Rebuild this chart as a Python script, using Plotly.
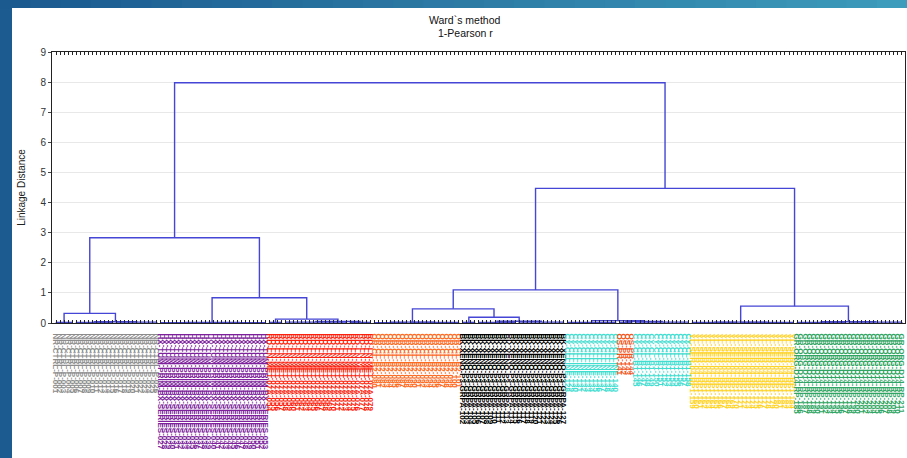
import plotly.graph_objects as go

# ---------------- data ----------------
cluster_names = ["gray", "purple", "red", "orange", "black", "cyan A", "orange-red", "cyan B", "yellow", "green"]
cluster_sizes = [26, 27, 26, 22, 26, 13, 4, 14, 26, 27]
cluster_colors = ["#8c8c8c", "#7e1f9c", "#ff1e0c", "#ff6b1e", "#000000",
                  "#40ddd0", "#f2561e", "#40ddd0", "#ffd31c", "#2fa563"]
cluster_tags = ["NR-CTRL-P-", "HX-TUM-PRIM-BX-SERIES-", "RD-LN-MET-07A-", "OR-CL-B2-",
                "BK-XENO-P3-GRPA-", "CY-CLLINE-", "OS-PR-", "CY-CL-B1-", "YL-SER-04-RP1-", "GR-ORG-D14-RP-"]

# leaf groups (consecutive leaves joined at a very small distance)
group_sizes = [5, 10, 11, 13, 14, 4, 16, 6, 9, 13, 4, 10, 12, 13, 4, 14, 12, 14, 13, 14]
group_heights = [0.02, 0.02, 0.03, 0.01, 0.01, 0.02, 0.03, 0.02, 0.01, 0.02,
                 0.02, 0.02, 0.03, 0.02, 0.02, 0.03, 0.02, 0.02, 0.02, 0.03]

# merges: (child a, child b, linkage distance); ids 0-19 are groups, 20+ are merges
merges = [
    (1, 2, 0.04),     # 20
    (0, 20, 0.32),    # 21
    (3, 4, 0.02),     # 22
    (6, 7, 0.05),     # 23
    (5, 23, 0.13),    # 24
    (22, 24, 0.84),   # 25
    (21, 25, 2.83),   # 26
    (8, 9, 0.03),     # 27
    (11, 12, 0.06),   # 28
    (10, 28, 0.19),   # 29
    (27, 29, 0.47),   # 30
    (14, 15, 0.05),   # 31
    (13, 31, 0.08),   # 32
    (30, 32, 1.10),   # 33
    (16, 17, 0.03),   # 34
    (18, 19, 0.04),   # 35
    (34, 35, 0.56),   # 36
    (33, 36, 4.47),   # 37
    (26, 37, 7.98),   # 38
]

y_ticks = list(range(0, 10))

# ---------------- build labels ----------------
labels, label_colors = [], []
count = 1
for tag, size, col in zip(cluster_tags, cluster_sizes, cluster_colors):
    for _ in range(size):
        labels.append(f"{tag}{count:03d}")
        label_colors.append(col)
        count += 1
n_leaves = len(labels)
leaf_x = list(range(n_leaves))

# ---------------- dendrogram geometry ----------------
xs, ys = [], []
node_x, node_h = {}, {}
start = 0
for gi, (sz, h) in enumerate(zip(group_sizes, group_heights)):
    lo, hi = start, start + sz - 1
    for leaf in range(lo, hi + 1):
        xs += [leaf_x[leaf], leaf_x[leaf], None]
        ys += [0, h, None]
    xs += [leaf_x[lo], leaf_x[hi], None]
    ys += [h, h, None]
    node_x[gi] = (leaf_x[lo] + leaf_x[hi]) / 2
    node_h[gi] = h
    start += sz

for k, (a, b, h) in enumerate(merges):
    nid = len(group_sizes) + k
    xa, xb = node_x[a], node_x[b]
    xs += [xa, xa, xb, xb, None]
    ys += [node_h[a], h, h, node_h[b], None]
    node_x[nid] = (xa + xb) / 2
    node_h[nid] = h

fig = go.Figure()
fig.add_trace(go.Scatter(x=xs, y=ys, mode="lines",
                         line=dict(color="#4545d6", width=1.4),
                         hoverinfo="skip", showlegend=False))

# ---------------- layout ----------------
W, H = 907, 458
ML, MR, MT, MB = 52, 2, 52, 135
PW, PH = W - ML - MR, H - MT - MB


def px2x(px):
    return (px - ML) / PW


def py2y(py):
    return (H - MB - py) / PH


shapes = []
# blue frame background: left band + gradient top band
c0 = (0x1b, 0x5a, 0x8f)
c1 = (0x3d, 0x9b, 0xbb)
nseg = 30
for i in range(nseg):
    t = i / (nseg - 1)
    col = tuple(int(c0[j] + (c1[j] - c0[j]) * t) for j in range(3))
    shapes.append(dict(type="rect", xref="paper", yref="paper", layer="below",
                       x0=px2x(i * W / nseg), x1=px2x((i + 1) * W / nseg + 1),
                       y0=py2y(0), y1=py2y(9),
                       line=dict(width=0), fillcolor="rgb(%d,%d,%d)" % col))
shapes.append(dict(type="rect", xref="paper", yref="paper", layer="below",
                   x0=px2x(12), x1=px2x(W + 2), y0=py2y(8), y1=py2y(H + 2),
                   line=dict(width=0), fillcolor="white"))

annotations = [
    dict(text="Ward`s method", x=px2x(465), y=py2y(20), xref="paper", yref="paper",
         showarrow=False, font=dict(size=10.5, color="#111"), xanchor="center", yanchor="middle"),
    dict(text="1-Pearson r", x=px2x(465), y=py2y(33), xref="paper", yref="paper",
         showarrow=False, font=dict(size=10.5, color="#111"), xanchor="center", yanchor="middle"),
]

ticktext = [f'<span style="color:{c}"><b>{t}</b></span>' for t, c in zip(labels, label_colors)]

fig.update_layout(
    width=W, height=H,
    margin=dict(l=ML, r=MR, t=MT, b=MB, pad=0),
    paper_bgcolor="#1c5b90",
    plot_bgcolor="white",
    shapes=shapes,
    annotations=annotations,
    font=dict(family="Liberation Sans, Arial, sans-serif", color="#222"),
    xaxis=dict(range=[-1, n_leaves - 0.2], tickmode="array", tickvals=leaf_x, ticktext=ticktext,
               tickangle=90, tickfont=dict(size=8), ticks="inside", ticklen=3, tickcolor="#222",
               ticklabelstandoff=8,
               showline=True, linecolor="#222", linewidth=1, mirror="ticks",
               showgrid=False, zeroline=False, automargin=False, fixedrange=True),
    yaxis=dict(range=[0, 9], tickmode="array", tickvals=y_ticks,
               ticks="outside", ticklen=3, tickcolor="#444", tickfont=dict(size=10, color="#333"),
               showline=True, linecolor="#222", linewidth=1, mirror=True,
               showgrid=True, gridcolor="#e8e8e8", gridwidth=1, zeroline=False,
               title=dict(text="Linkage Distance", font=dict(size=10, color="#222"), standoff=12),
               automargin=False, fixedrange=True),
)

fig.write_html("out.html", config={"displayModeBar": False},
               post_script="document.body.style.margin='0';document.body.style.overflow='hidden';")
